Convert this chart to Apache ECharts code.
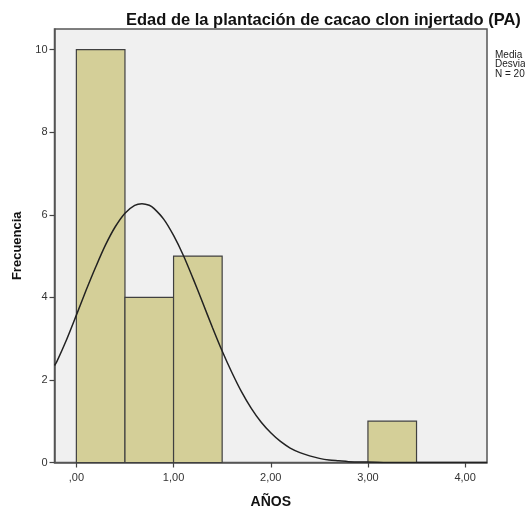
<!DOCTYPE html>
<html>
<head>
<meta charset="utf-8">
<script src="https://cdn.jsdelivr.net/npm/echarts@6/dist/echarts.min.js"></script>
<style>html,body{margin:0;padding:0;background:#fff}#c{width:525px;height:510px}</style>
</head>
<body>
<div id="c"></div>
<script>
// Histogram bins: start, end, count
var binStart = [0, 0.5, 1.0, 3.0];
var binEnd   = [0.5, 1.0, 1.5, 3.5];
var binCount = [10, 4, 5, 1];
// Normal curve
var curveX = [-0.225,-0.2,-0.1,0,0.1,0.2,0.3,0.4,0.5,0.6,0.675,0.75,0.8,0.9,1.0,1.1,1.2,1.3,1.4,1.5,1.6,1.7,1.8,1.9,2.0,2.1,2.2,2.3,2.4,2.5,2.6,2.7,2.8,2.9,3.0,3.2,3.5,4.0,4.225];
var curveY = [2.35,2.45,2.98,3.57,4.17,4.74,5.27,5.71,6.04,6.23,6.27,6.23,6.15,5.89,5.50,5.02,4.46,3.87,3.27,2.70,2.18,1.71,1.31,0.98,0.72,0.51,0.35,0.24,0.16,0.10,0.06,0.04,0.02,0.01,0.01,0,0,0,0];
var xTicks = [0, 1, 2, 3, 4];
var xTickLabels = [',00', '1,00', '2,00', '3,00', '4,00'];
var yTicks = [0, 2, 4, 6, 8, 10];
var statsLines = ['Media = ,68', 'Desviación típica = ,636', 'N = 20'];

var chart = echarts.init(document.getElementById('c'), null, {renderer: 'canvas'});
var bins = binStart.map(function (s, i) { return [s, binEnd[i], binCount[i]]; });
var curve = curveX.map(function (x, i) { return [x, curveY[i]]; });

var option = {
  animation: false,
  backgroundColor: '#ffffff',
  title: {
    text: 'Edad de la plantación de cacao clon injertado (PA)',
    left: 121, top: 7,
    textStyle: {fontFamily: 'Liberation Sans', fontSize: 16.5, fontWeight: 'bold', color: '#111'}
  },
  grid: {left: 54.5, right: 38, top: 29, bottom: 47.5, outerBoundsMode: 'none', containLabel: false,
    show: true, backgroundColor: '#f0f0f0', borderColor: '#555', borderWidth: 1.5},
  xAxis: {
    type: 'value', min: -0.225, max: 4.225,
    name: 'AÑOS', nameLocation: 'middle', nameGap: 33,
    nameTextStyle: {fontFamily: 'Liberation Sans', fontSize: 14, fontWeight: 'bold', color: '#111'},
    axisLine: {show: true, onZero: false, lineStyle: {color: '#555', width: 1.5}},
    axisTick: {show: true, length: 5, customValues: xTicks, lineStyle: {color: '#444', width: 1.2}},
    axisLabel: {customValues: xTicks, margin: 10, fontFamily: 'Liberation Sans', fontSize: 11, color: '#333',
      formatter: function (v) { var i = xTicks.indexOf(v); return i >= 0 ? xTickLabels[i] : ''; }},
    splitLine: {show: false}
  },
  yAxis: {
    type: 'value', min: 0, max: 10.5,
    name: 'Frecuencia', nameLocation: 'middle', nameGap: 30, nameRotate: 90,
    nameTextStyle: {fontFamily: 'Liberation Sans', fontSize: 13, fontWeight: 'bold', color: '#111'},
    axisLine: {show: true, onZero: false, lineStyle: {color: '#555', width: 1.5}},
    axisTick: {show: true, length: 5, customValues: yTicks, lineStyle: {color: '#444', width: 1.2}},
    axisLabel: {customValues: yTicks, margin: 7, fontFamily: 'Liberation Sans', fontSize: 11, color: '#333'},
    splitLine: {show: false}
  },
  graphic: [{
    type: 'text', left: 495, top: 50,
    style: {text: statsLines.join('\n'), fontFamily: 'Liberation Sans', fontSize: 10, lineHeight: 9.5, fill: '#222'}
  }],
  series: [{
    type: 'custom',
    data: bins,
    renderItem: function (params, api) {
      var p0 = api.coord([api.value(0), api.value(2)]);
      var p1 = api.coord([api.value(1), 0]);
      return {
        type: 'rect',
        shape: {x: p0[0], y: p0[1], width: p1[0] - p0[0], height: p1[1] - p0[1]},
        style: {fill: '#d4cf98', stroke: '#404040', lineWidth: 1.2}
      };
    },
    encode: {x: [0, 1], y: 2},
    z: 2
  }, {
    type: 'line',
    data: curve,
    smooth: 0.3,
    showSymbol: false,
    lineStyle: {color: '#222', width: 1.5},
    z: 3
  }]
};
chart.setOption(option);
</script>
</body>
</html>
